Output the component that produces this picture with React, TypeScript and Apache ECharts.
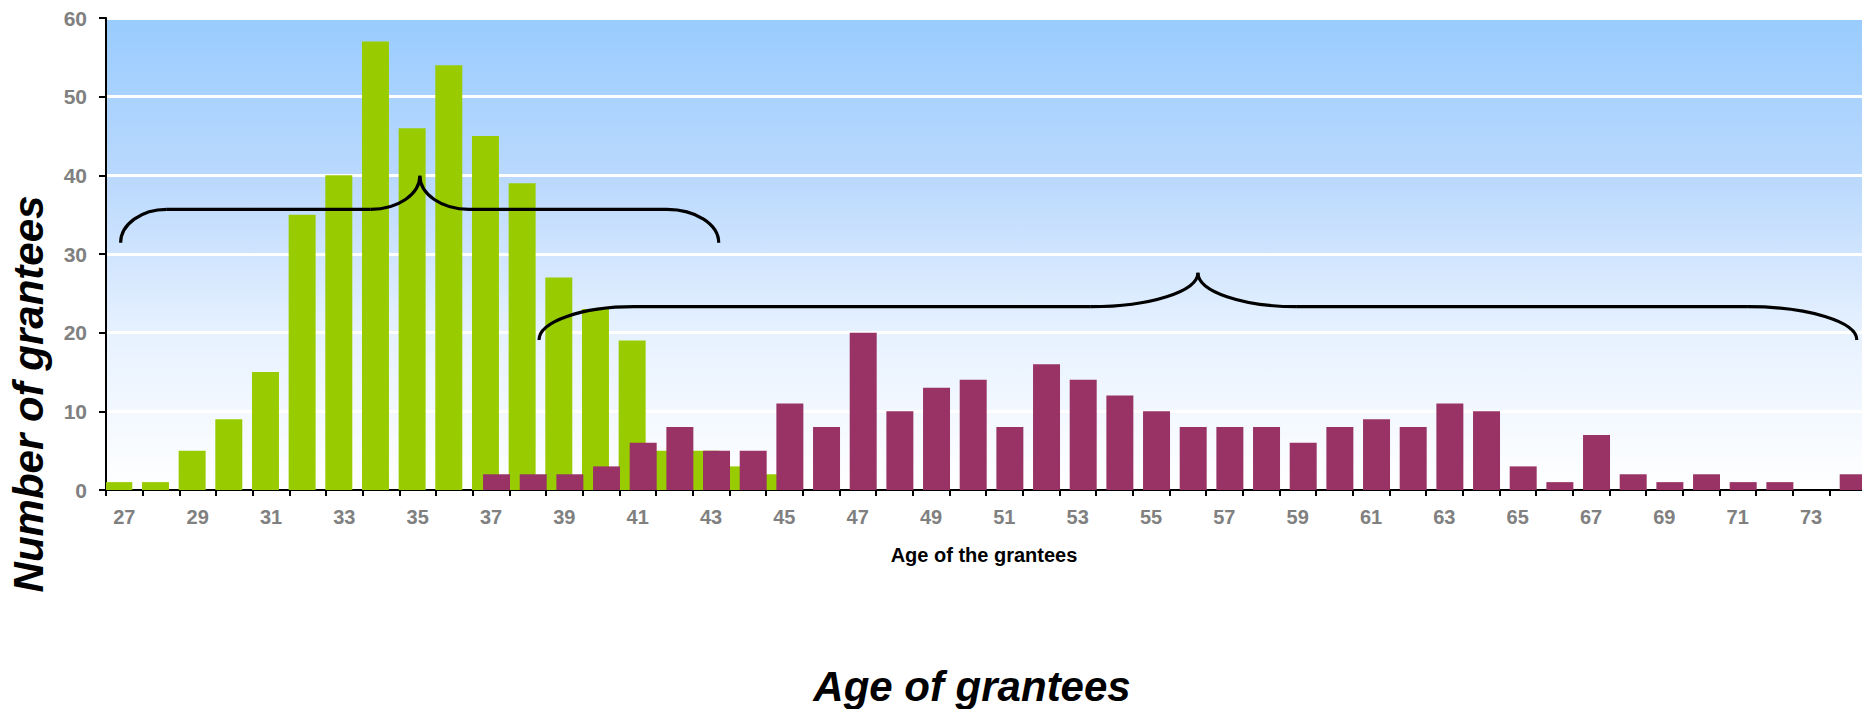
import React, { useEffect, useRef } from "react";
import * as echarts from "echarts";

// ---- data ----
const ages = [
  "27", "28", "29", "30", "31", "32", "33", "34", "35", "36", "37", "38",
  "39", "40", "41", "42", "43", "44", "45", "46", "47", "48", "49", "50",
  "51", "52", "53", "54", "55", "56", "57", "58", "59", "60", "61", "62",
  "63", "64", "65", "66", "67", "68", "69", "70", "71", "72", "73", "74",
];

const youngerGrantees = [
  1, 1, 5, 9, 15, 35, 40, 57, 46, 54, 45, 39,
  27, 23, 19, 5, 5, 3, 2, 0, 0, 0, 0, 0,
  0, 0, 0, 0, 0, 0, 0, 0, 0, 0, 0, 0,
  0, 0, 0, 0, 0, 0, 0, 0, 0, 0, 0, 0,
];

const olderGrantees = [
  0, 0, 0, 0, 0, 0, 0, 0, 0, 0, 2, 2,
  2, 3, 6, 8, 5, 5, 11, 8, 20, 10, 13, 14,
  8, 16, 14, 12, 10, 8, 8, 8, 6, 8, 9, 8,
  11, 10, 3, 1, 7, 2, 1, 2, 1, 1, 0, 2,
];

const yTicks = [0, 10, 20, 30, 40, 50, 60];

// brace annotations, in (category index, value) units
const braceYoung = { start: [-0.1, 31.44], hy: 35.68, h1: 1.16, h2: 6.72, peak: [8.06, 39.95], h3: 9.4, h4: 14.8, end: [16.21, 31.44] };
const braceOld = { start: [11.31, 19.07], hy: 23.3, h1: 13.9, h2: 26.36, peak: [29.28, 27.62], h3: 31.98, h4: 44.28, end: [47.25, 19.07] };

const FONT = '"Liberation Sans", Arial, Helvetica, sans-serif';

export default function App() {
  const ref = useRef<HTMLDivElement>(null);

  useEffect(() => {
    if (!ref.current) return;
    const chart = echarts.init(ref.current, null, { renderer: "svg" });

    chart.setOption({
      animation: false,
      backgroundColor: "#ffffff",
      grid: {
        left: 106,
        right: -4,
        top: 18,
        bottom: 219,
        show: true,
        borderWidth: 0,
        outerBoundsMode: "none",
        containLabel: false,
        backgroundColor: new echarts.graphic.LinearGradient(0, 0, 0, 1, [
          { offset: 0, color: "#99CCFF" },
          { offset: 0.35, color: "#BBD9FD" },
          { offset: 0.66, color: "#E6F1FF" },
          { offset: 1, color: "#FFFFFF" },
        ]),
      },
      xAxis: {
        type: "category",
        data: ages,
        boundaryGap: true,
        axisLine: { show: true, lineStyle: { color: "#000", width: 2 } },
        axisTick: { show: true, interval: 0, alignWithLabel: false, length: 6, lineStyle: { color: "#000", width: 2 } },
        axisLabel: {
          interval: 1,
          color: "#808080",
          fontFamily: FONT,
          fontWeight: "bold",
          fontSize: 20,
          margin: 17,
        },
        splitLine: { show: false },
      },
      yAxis: {
        type: "value",
        min: yTicks[0],
        max: yTicks[yTicks.length - 1],
        interval: 10,
        axisLine: { show: true, lineStyle: { color: "#000", width: 2 } },
        axisTick: { show: true, length: 7, lineStyle: { color: "#000", width: 2 } },
        axisLabel: {
          color: "#808080",
          fontFamily: FONT,
          fontWeight: "bold",
          fontSize: 21,
          margin: 19,
        },
        splitLine: { show: true, lineStyle: { color: "#FFFFFF", width: 3 } },
      },
      series: [
        {
          name: "Younger grantees",
          type: "bar",
          data: youngerGrantees,
          barWidth: "73.6%",
          barGap: "-59%",
          itemStyle: { color: "#99CC00" },
          z: 2,
        },
        {
          name: "Older grantees",
          type: "bar",
          data: olderGrantees,
          barWidth: "73.6%",
          barGap: "-59%",
          itemStyle: { color: "#993366" },
          z: 3,
        },
      ],
    });

    const c0 = chart.convertToPixel({ xAxisIndex: 0 }, ages[0]) as number;
    const c1 = chart.convertToPixel({ xAxisIndex: 0 }, ages[1]) as number;
    const step = c1 - c0;
    const X = (i: number) => c0 + i * step;
    const Y = (v: number) => chart.convertToPixel({ yAxisIndex: 0 }, v) as number;

    const stroke = { stroke: "#000", lineWidth: 3.2, fill: null as any };
    const k = 0.552;

    const endCurve = (ex: number, ey: number, hx: number, hy: number) => ({
      type: "bezierCurve",
      z: 100,
      shape: { x1: ex, y1: ey, cpx1: ex, cpy1: ey - k * (ey - hy), cpx2: hx - k * (hx - ex), cpy2: hy, x2: hx, y2: hy },
      style: stroke,
    });
    const peakCurve = (hx: number, hy: number, px: number, py: number) => ({
      type: "bezierCurve",
      z: 100,
      shape: { x1: hx, y1: hy, cpx1: hx + k * (px - hx), cpy1: hy, cpx2: px, cpy2: py + k * (hy - py), x2: px, y2: py },
      style: stroke,
    });
    const hLine = (xa: number, xb: number, y: number) => ({
      type: "line",
      z: 100,
      shape: { x1: xa, y1: y, x2: xb, y2: y },
      style: stroke,
    });

    const braceEls = (b: typeof braceYoung) => {
      const hy = Y(b.hy);
      const sx = X(b.start[0]), sy = Y(b.start[1]);
      const ex = X(b.end[0]), ey = Y(b.end[1]);
      const px = X(b.peak[0]), py = Y(b.peak[1]);
      return [
        endCurve(sx, sy, X(b.h1), hy),
        hLine(X(b.h1), X(b.h2), hy),
        peakCurve(X(b.h2), hy, px, py),
        peakCurve(X(b.h3), hy, px, py),
        hLine(X(b.h3), X(b.h4), hy),
        endCurve(ex, ey, X(b.h4), hy),
      ];
    };

    chart.setOption({
      graphic: [
        ...braceEls(braceYoung),
        ...braceEls(braceOld),
        {
          type: "text",
          x: 984,
          y: 555,
          z: 100,
          style: { text: "Age of the grantees", font: `bold 20px ${FONT}`, fill: "#000", align: "center", verticalAlign: "middle" },
        },
        {
          type: "text",
          x: 972,
          y: 686,
          z: 100,
          style: { text: "Age of grantees", font: `italic bold 42px ${FONT}`, fill: "#000", align: "center", verticalAlign: "middle" },
        },
        {
          type: "text",
          x: 28,
          y: 394,
          rotation: Math.PI / 2,
          z: 100,
          style: { text: "Number of grantees", font: `italic bold 42px ${FONT}`, fill: "#000", align: "center", verticalAlign: "middle" },
        },
      ],
    });

    return () => chart.dispose();
  }, []);

  return <div ref={ref} style={{ position: "absolute", left: 0, top: 0, width: 1862, height: 709 }} />;
}
